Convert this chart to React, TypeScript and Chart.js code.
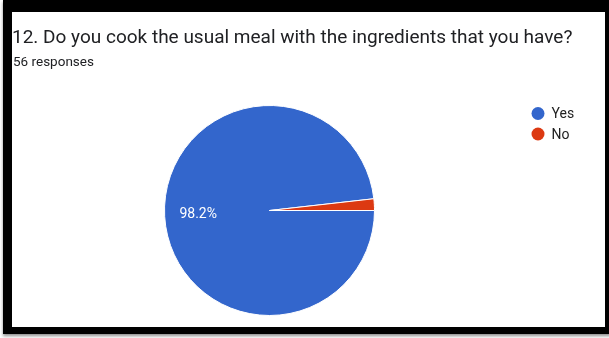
import React, { useEffect, useRef } from "react";
import { Chart, registerables } from "chart.js";

Chart.register(...registerables);

const titleText = "12. Do you cook the usual meal with the ingredients that you have?";
const subtitleText = "56 responses";
const categories = ["Yes", "No"];
const counts = [55, 1];
const sliceColors = ["#3366cc", "#dc3912"];

const W = 593;
const H = 315;

const overlayPlugin = {
  id: "overlay",
  afterDraw(chart: any) {
    const ctx = chart.ctx as CanvasRenderingContext2D;
    ctx.save();
    // title + subtitle
    ctx.textAlign = "left";
    ctx.textBaseline = "alphabetic";
    ctx.fillStyle = "#202124";
    ctx.font = "19px Roboto";
    ctx.fillText(titleText, 0, 31);
    ctx.font = "13.5px Roboto";
    ctx.fillText(subtitleText, 1, 54);

    // percentage labels
    const meta = chart.getDatasetMeta(0);
    const data = chart.data.datasets[0].data as number[];
    const total = data.reduce((a, b) => a + b, 0);
    meta.data.forEach((arc: any, i: number) => {
      const pct = data[i] / total;
      if (pct < 0.05) return;
      const { x, y, startAngle, endAngle, outerRadius } = arc.getProps(
        ["x", "y", "startAngle", "endAngle", "outerRadius"],
        true
      );
      const mid = (startAngle + endAngle) / 2;
      const r = outerRadius * 0.68;
      ctx.font = "14px Roboto";
      ctx.fillStyle = "#ffffff";
      ctx.textAlign = "center";
      ctx.textBaseline = "middle";
      ctx.fillText((pct * 100).toFixed(1) + "%", x + Math.cos(mid) * r, y + Math.sin(mid) * r);
    });

    // legend
    const labels = chart.data.labels as string[];
    const bg = chart.data.datasets[0].backgroundColor as string[];
    labels.forEach((lab, i) => {
      const cy = 101.5 + i * 20.5;
      ctx.beginPath();
      ctx.fillStyle = bg[i];
      ctx.arc(526, cy, 6.5, 0, Math.PI * 2);
      ctx.fill();
      ctx.fillStyle = "#222222";
      ctx.font = "14px Roboto";
      ctx.textAlign = "left";
      ctx.textBaseline = "alphabetic";
      ctx.fillText(lab, 539.5, cy + 4.5);
    });
    ctx.restore();
  },
};

export default function App() {
  const ref = useRef<HTMLCanvasElement | null>(null);

  useEffect(() => {
    document.body.style.margin = "0";
    document.body.style.overflow = "hidden";
    if (!ref.current) return;
    const chart = new Chart(ref.current, {
      type: "pie",
      data: {
        labels: categories,
        datasets: [
          {
            data: counts,
            backgroundColor: sliceColors,
            borderColor: "#ffffff",
            borderWidth: 1,
          },
        ],
      },
      options: {
        responsive: false,
        animation: false,
        devicePixelRatio: 1,
        rotation: 90,
        layout: { padding: { left: 152, right: 230, top: 92, bottom: 10 } },
        plugins: {
          legend: { display: false },
          tooltip: { enabled: false },
        },
      },
      plugins: [overlayPlugin],
    });
    return () => chart.destroy();
  }, []);

  return (
    <div style={{ position: "absolute", left: 0, top: 0, width: 609, height: 338, background: "#fff", overflow: "hidden" }}>
      <div
        style={{
          position: "absolute",
          left: 3,
          top: 0,
          width: 608,
          height: 334,
          background: "#000",
          boxShadow: "0 2px 3px rgba(0,0,0,0.45)",
        }}
      />
      <div style={{ position: "absolute", left: 12, top: 12, width: W, height: H, background: "#fff" }}>
        <canvas ref={ref} width={W} height={H} style={{ display: "block", width: W, height: H }} />
      </div>
    </div>
  );
}
